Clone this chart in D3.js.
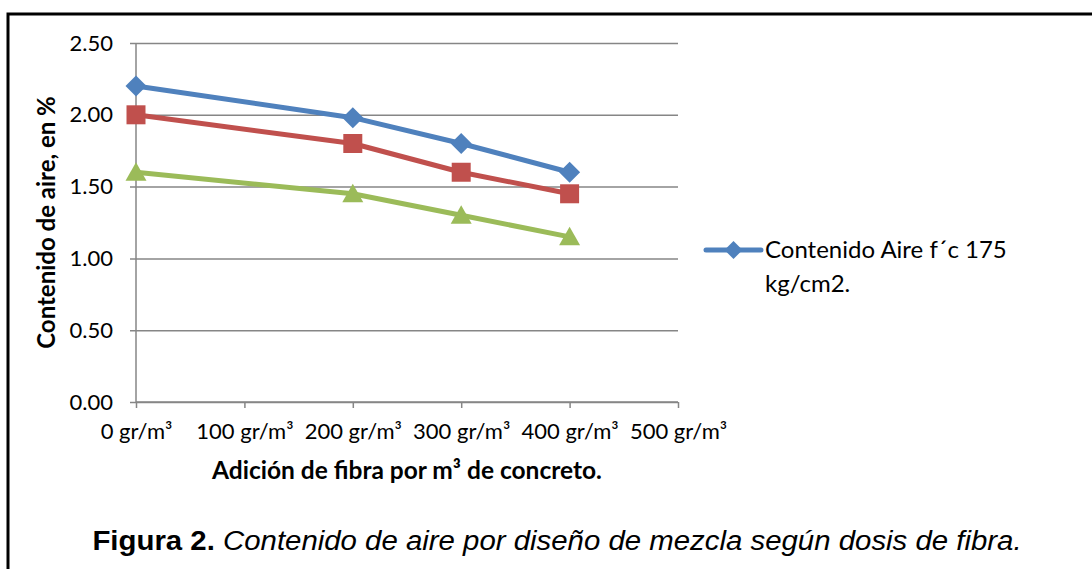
<!DOCTYPE html>
<html>
<head>
<meta charset="utf-8">
<script src="https://cdn.jsdelivr.net/npm/d3@7"></script>
<style>
  html, body { margin: 0; padding: 0; background: #fff; }
  svg { display: block; }
</style>
</head>
<body>
<svg id="chart" width="1092" height="569"></svg>
<script>
// Fibre dosage (gr/m³) at which air content was measured
const dosages = [0, 200, 300, 400];
// Axis ticks
const xTicks = [0, 100, 200, 300, 400, 500];
const yTicks = [0, 0.5, 1.0, 1.5, 2.0, 2.5];

// Air content (%) per mix design
const aire175 = [2.20, 1.98, 1.80, 1.60];
const aire210 = [2.00, 1.80, 1.60, 1.45];
const aire280 = [1.60, 1.45, 1.30, 1.15];

const seriesNames = ["Contenido Aire f´c 175 kg/cm2.", "Contenido Aire f´c 210 kg/cm2.", "Contenido Aire f´c 280 kg/cm2."];

const series = [
  { name: seriesNames[0], values: aire175, color: "#4F81BD", marker: "diamond" },
  { name: seriesNames[1], values: aire210, color: "#C0504D", marker: "square" },
  { name: seriesNames[2], values: aire280, color: "#9BBB59", marker: "triangle" }
];

const svg = d3.select("#chart");
const uiFont = "Lato, 'Open Sans', sans-serif";

// Outer frame
svg.append("rect")
  .attr("x", 8).attr("y", 14)
  .attr("width", 1200).attr("height", 700)
  .attr("fill", "none")
  .attr("stroke", "#000").attr("stroke-width", 3);

const plot = { left: 136, right: 678, top: 43, bottom: 402 };

const x = d3.scaleLinear().domain([0, 500]).range([plot.left, plot.right]);
const y = d3.scaleLinear().domain([0, 2.5]).range([plot.bottom, plot.top]);

// Horizontal gridlines with outward ticks
const yAxis = d3.axisLeft(y)
  .tickValues(yTicks)
  .tickSize(-(plot.right - plot.left))
  .tickPadding(23)
  .tickFormat(d3.format(".2f"));

const gy = svg.append("g")
  .attr("transform", `translate(${plot.left},0)`)
  .call(yAxis);
gy.select(".domain").remove();
gy.selectAll(".tick line")
  .attr("x1", -6)
  .attr("stroke", "#868686").attr("stroke-width", 1.5);
gy.selectAll(".tick text")
  .attr("font-family", uiFont).attr("font-size", 22)
  .attr("fill", "#000");

// Vertical axis line
svg.append("line")
  .attr("x1", plot.left).attr("x2", plot.left)
  .attr("y1", plot.top).attr("y2", plot.bottom)
  .attr("stroke", "#868686").attr("stroke-width", 1.5);

// Category axis
const xAxis = d3.axisBottom(x)
  .tickValues(xTicks)
  .tickSize(6)
  .tickPadding(15)
  .tickFormat(d => `${d} gr/m³`);

const gx = svg.append("g")
  .attr("transform", `translate(0,${plot.bottom})`)
  .call(xAxis);
gx.select(".domain")
  .attr("stroke", "#868686").attr("stroke-width", 1.5)
  .attr("d", `M${plot.left},0H${plot.right}`);
gx.selectAll(".tick line").attr("stroke", "#868686").attr("stroke-width", 1.5);
gx.selectAll(".tick text")
  .attr("font-family", uiFont).attr("font-size", 22)
  .attr("fill", "#000");

// Axis titles
svg.append("text")
  .attr("transform", `translate(55,${(plot.top + plot.bottom) / 2}) rotate(-90)`)
  .attr("text-anchor", "middle")
  .attr("font-family", uiFont).attr("font-weight", "bold").attr("font-size", 24)
  .text("Contenido de aire, en %");

svg.append("text")
  .attr("x", (plot.left + plot.right) / 2).attr("y", 479)
  .attr("text-anchor", "middle")
  .attr("font-family", uiFont).attr("font-weight", "bold").attr("font-size", 24.5)
  .text("Adición de fibra por m³ de concreto.");

// Marker shapes
function markerPath(type) {
  if (type === "diamond") return "M0,-10.5L10.5,0L0,10.5L-10.5,0Z";
  if (type === "square") return "M-9.5,-9.5H9.5V9.5H-9.5Z";
  return "M0,-10L10.5,8.5H-10.5Z";
}

const line = d3.line()
  .x((d, i) => x(dosages[i]))
  .y(d => y(d));

series.forEach(s => {
  const g = svg.append("g");
  g.append("path")
    .datum(s.values)
    .attr("d", line)
    .attr("fill", "none")
    .attr("stroke", s.color)
    .attr("stroke-width", 5)
    .attr("stroke-linejoin", "round");
  g.selectAll("path.mk")
    .data(s.values)
    .join("path")
    .attr("class", "mk")
    .attr("transform", (d, i) => `translate(${x(dosages[i])},${y(d)})`)
    .attr("d", markerPath(s.marker))
    .attr("fill", s.color);
});

// Legend (only the first entry fits in the frame)
const lg = svg.append("g").attr("transform", "translate(706,250)");
lg.append("line")
  .attr("x1", 0).attr("x2", 55)
  .attr("stroke", series[0].color).attr("stroke-width", 5)
  .attr("stroke-linecap", "round");
lg.append("path")
  .attr("transform", "translate(27.5,0)")
  .attr("d", "M0,-9L9,0L0,9L-9,0Z")
  .attr("fill", series[0].color);
const lt = lg.append("text")
  .attr("x", 59).attr("y", 8)
  .attr("font-family", uiFont).attr("font-size", 24)
  .attr("fill", "#000");
lt.append("tspan").attr("x", 59).attr("dy", 0).text("Contenido Aire f´c 175");
lt.append("tspan").attr("x", 59).attr("dy", 34).text("kg/cm2.");

// Figure caption
const cap = svg.append("text")
  .attr("transform", "translate(557,550) scale(1.05,1)")
  .attr("text-anchor", "middle")
  .attr("font-family", "'Liberation Sans', Arial, sans-serif")
  .attr("font-size", 28)
  .attr("fill", "#000");
cap.append("tspan").attr("font-weight", "bold").text("Figura 2. ");
cap.append("tspan").attr("font-style", "italic").text("Contenido de aire por diseño de mezcla según dosis de fibra.");
</script>
</body>
</html>
